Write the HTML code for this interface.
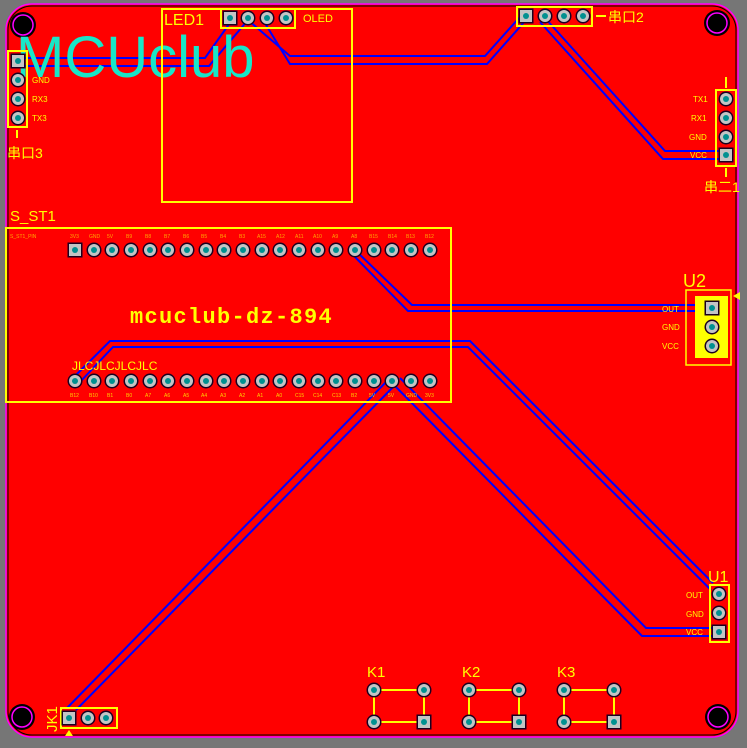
<!DOCTYPE html>
<html><head><meta charset="utf-8"><style>
html,body{margin:0;padding:0;background:#767676;}
svg{display:block}
text{font-family:"Liberation Sans","Noto Sans CJK SC",sans-serif;fill:#ffff00}
.s{font-size:8px}
.t{font-size:5px;opacity:.8}
</style></head><body>
<svg width="747" height="748" viewBox="0 0 747 748" xmlns="http://www.w3.org/2000/svg">
<defs>
<g id="p"><circle r="7.5" fill="#1a0020"/><circle r="6" fill="#c4c4c4"/><circle r="3" fill="#009090"/></g>
<g id="q"><rect x="-7.5" y="-7.5" width="15" height="15" fill="#1a0020"/><rect x="-6" y="-6" width="12" height="12" fill="#c4c4c4"/><circle r="3" fill="#009090"/></g>
<g id="h"><circle r="13" fill="#000"/><circle r="10" fill="none" stroke="#ff00ff" stroke-width="1.5"/></g>
</defs>
<rect width="747" height="748" fill="#767676"/>
<rect x="6" y="4" width="732" height="733" rx="26" fill="#ff0000" stroke="#ff00ff" stroke-width="1.5"/>
<rect x="8" y="6" width="728" height="729" rx="24" fill="none" stroke="#000" stroke-width="1"/>
<use href="#h" x="23" y="25"/><use href="#h" x="717" y="23"/><use href="#h" x="22" y="717"/><use href="#h" x="718" y="717"/>
<!-- traces -->
<g fill="none" stroke="#0000ff" stroke-width="2">
<polyline points="18,58 205,58 232,20"/>
<polyline points="18,66 209,66 248,20"/>
<polyline points="248,20 290,56 485,56 519,18"/>
<polyline points="263,20 290,64 487,64 526,20"/>
<polyline points="545,18 665,151 728,151"/>
<polyline points="540,22 663,159 728,159"/>
<polyline points="355,250 412,305 710,305"/>
<polyline points="355,257 408,311 710,311"/>
<polyline points="73,378 110,341 470,341 713,583"/>
<polyline points="80,382 113,347 468,347 711,590"/>
<polyline points="400,378 646,628 720,628"/>
<polyline points="395,386 642,636 720,636"/>
<polyline points="388,380 67,708"/>
<polyline points="396,384 76,710"/>
</g>
<text x="16" y="77" style="font-size:58px;fill:#18e6c8;font-family:'Liberation Sans',sans-serif">MCUclub</text>
<!-- 串口3 -->
<rect x="8" y="51" width="19" height="76" fill="none" stroke="#ff0" stroke-width="2"/>
<line x1="17" y1="130" x2="17" y2="138" stroke="#ff0" stroke-width="2"/>
<use href="#q" x="18" y="61"/><use href="#p" x="18" y="80"/><use href="#p" x="18" y="99"/><use href="#p" x="18" y="118"/>
<text class="s" x="32" y="83">GND</text><text class="s" x="32" y="102">RX3</text><text class="s" x="32" y="121">TX3</text>
<text x="7" y="158" style="font-size:14px">串口3</text>
<!-- LED1 -->
<rect x="162" y="9" width="190" height="193" fill="none" stroke="#ff0" stroke-width="2"/>
<text x="164" y="25" style="font-size:16px">LED1</text>
<rect x="221" y="9" width="74" height="19" fill="none" stroke="#ff0" stroke-width="2"/>
<use href="#q" x="230" y="18"/><use href="#p" x="248" y="18"/><use href="#p" x="267" y="18"/><use href="#p" x="286" y="18"/>
<text x="303" y="22" style="font-size:11px">OLED</text>
<!-- 串口2 -->
<rect x="517" y="7" width="75" height="19" fill="none" stroke="#ff0" stroke-width="2"/>
<use href="#q" x="526" y="16"/><use href="#p" x="545" y="16"/><use href="#p" x="564" y="16"/><use href="#p" x="583" y="16"/>
<line x1="596" y1="16" x2="606" y2="16" stroke="#ff0" stroke-width="2"/>
<text x="608" y="22" style="font-size:14px">串口2</text>
<!-- 串二1 -->
<rect x="716" y="90" width="20" height="76" fill="none" stroke="#ff0" stroke-width="2"/>
<line x1="726" y1="77" x2="726" y2="88" stroke="#ff0" stroke-width="2"/>
<line x1="726" y1="168" x2="726" y2="177" stroke="#ff0" stroke-width="2"/>
<use href="#p" x="726" y="99"/><use href="#p" x="726" y="118"/><use href="#p" x="726" y="137"/><use href="#q" x="726" y="155"/>
<text class="s" x="693" y="102">TX1</text><text class="s" x="691" y="121">RX1</text><text class="s" x="689" y="140">GND</text><text class="s" x="690" y="158">VCC</text>
<text x="704" y="192" style="font-size:14px">串二1</text>
<!-- S_ST1 -->
<text x="10" y="221" style="font-size:15px">S_ST1</text>
<rect x="6" y="228" width="445" height="174" fill="none" stroke="#ff0" stroke-width="2"/>
<g>
<use href="#q" x="75" y="250"/><use href="#p" x="94" y="250"/><use href="#p" x="112" y="250"/><use href="#p" x="131" y="250"/><use href="#p" x="150" y="250"/><use href="#p" x="168" y="250"/><use href="#p" x="187" y="250"/><use href="#p" x="206" y="250"/><use href="#p" x="224" y="250"/><use href="#p" x="243" y="250"/><use href="#p" x="262" y="250"/><use href="#p" x="280" y="250"/><use href="#p" x="299" y="250"/><use href="#p" x="318" y="250"/><use href="#p" x="336" y="250"/><use href="#p" x="355" y="250"/><use href="#p" x="374" y="250"/><use href="#p" x="392" y="250"/><use href="#p" x="411" y="250"/><use href="#p" x="430" y="250"/>
</g>
<g class="t">
<text class="t" x="10" y="238">S_ST1_PIN</text>
<text class="t" x="70" y="238">3V3</text><text class="t" x="89" y="238">GND</text><text class="t" x="107" y="238">5V</text><text class="t" x="126" y="238">B9</text><text class="t" x="145" y="238">B8</text><text class="t" x="164" y="238">B7</text><text class="t" x="183" y="238">B6</text><text class="t" x="201" y="238">B5</text><text class="t" x="220" y="238">B4</text><text class="t" x="239" y="238">B3</text><text class="t" x="257" y="238">A15</text><text class="t" x="276" y="238">A12</text><text class="t" x="295" y="238">A11</text><text class="t" x="313" y="238">A10</text><text class="t" x="332" y="238">A9</text><text class="t" x="351" y="238">A8</text><text class="t" x="369" y="238">B15</text><text class="t" x="388" y="238">B14</text><text class="t" x="406" y="238">B13</text><text class="t" x="425" y="238">B12</text>
</g>
<g>
<use href="#p" x="75" y="381"/><use href="#p" x="94" y="381"/><use href="#p" x="112" y="381"/><use href="#p" x="131" y="381"/><use href="#p" x="150" y="381"/><use href="#p" x="168" y="381"/><use href="#p" x="187" y="381"/><use href="#p" x="206" y="381"/><use href="#p" x="224" y="381"/><use href="#p" x="243" y="381"/><use href="#p" x="262" y="381"/><use href="#p" x="280" y="381"/><use href="#p" x="299" y="381"/><use href="#p" x="318" y="381"/><use href="#p" x="336" y="381"/><use href="#p" x="355" y="381"/><use href="#p" x="374" y="381"/><use href="#p" x="392" y="381"/><use href="#p" x="411" y="381"/><use href="#p" x="430" y="381"/>
</g>
<g>
<text class="t" x="70" y="397">B12</text><text class="t" x="89" y="397">B10</text><text class="t" x="107" y="397">B1</text><text class="t" x="126" y="397">B0</text><text class="t" x="145" y="397">A7</text><text class="t" x="164" y="397">A6</text><text class="t" x="183" y="397">A5</text><text class="t" x="201" y="397">A4</text><text class="t" x="220" y="397">A3</text><text class="t" x="239" y="397">A2</text><text class="t" x="257" y="397">A1</text><text class="t" x="276" y="397">A0</text><text class="t" x="295" y="397">C15</text><text class="t" x="313" y="397">C14</text><text class="t" x="332" y="397">C13</text><text class="t" x="351" y="397">B2</text><text class="t" x="369" y="397">5V</text><text class="t" x="388" y="397">5V</text><text class="t" x="406" y="397">GND</text><text class="t" x="425" y="397">3V3</text>
</g>
<text x="130" y="323" style="font-size:22px;font-family:'Liberation Mono',monospace;font-weight:bold;fill:#ff0;letter-spacing:1.3px">mcuclub-dz-894</text>
<text x="72" y="370" style="font-size:12px">JLCJLCJLCJLC</text>
<!-- U2 -->
<text x="683" y="287" style="font-size:18px">U2</text>
<rect x="686" y="290" width="45" height="75" fill="none" stroke="#ff0" stroke-width="1.5"/>
<rect x="695" y="296" width="33" height="62" fill="#ffff00"/>
<polygon points="733,296 740,292 740,300" fill="#ff0"/>
<use href="#q" x="712" y="308"/><use href="#p" x="712" y="327"/><use href="#p" x="712" y="346"/>
<text class="s" x="662" y="312">OUT</text><text class="s" x="662" y="330">GND</text><text class="s" x="662" y="349">VCC</text>
<!-- U1 -->
<text x="708" y="582" style="font-size:16px">U1</text>
<rect x="710" y="585" width="19" height="57" fill="none" stroke="#ff0" stroke-width="2"/>
<use href="#p" x="719" y="594"/><use href="#p" x="719" y="613"/><use href="#q" x="719" y="632"/>
<text class="s" x="686" y="598">OUT</text><text class="s" x="686" y="617">GND</text><text class="s" x="686" y="635">VCC</text>
<!-- JK1 -->
<rect x="61" y="708" width="56" height="20" fill="none" stroke="#ff0" stroke-width="2"/>
<use href="#q" x="69" y="718"/><use href="#p" x="88" y="718"/><use href="#p" x="106" y="718"/>
<polygon points="69,730 65,736 73,736" fill="#ff0"/>
<text x="57" y="732" transform="rotate(-90 57 732)" style="font-size:15px">JK1</text>
<!-- K1-K3 -->
<g id="k">
<rect x="374" y="690" width="50" height="32" fill="none" stroke="#ff0" stroke-width="2"/>
<use href="#p" x="374" y="690"/><use href="#p" x="424" y="690"/><use href="#p" x="374" y="722"/><use href="#q" x="424" y="722"/>
</g>
<use href="#k" x="95"/><use href="#k" x="190"/>
<text x="367" y="677" style="font-size:15px">K1</text>
<text x="462" y="677" style="font-size:15px">K2</text>
<text x="557" y="677" style="font-size:15px">K3</text>
</svg>
</body></html>
